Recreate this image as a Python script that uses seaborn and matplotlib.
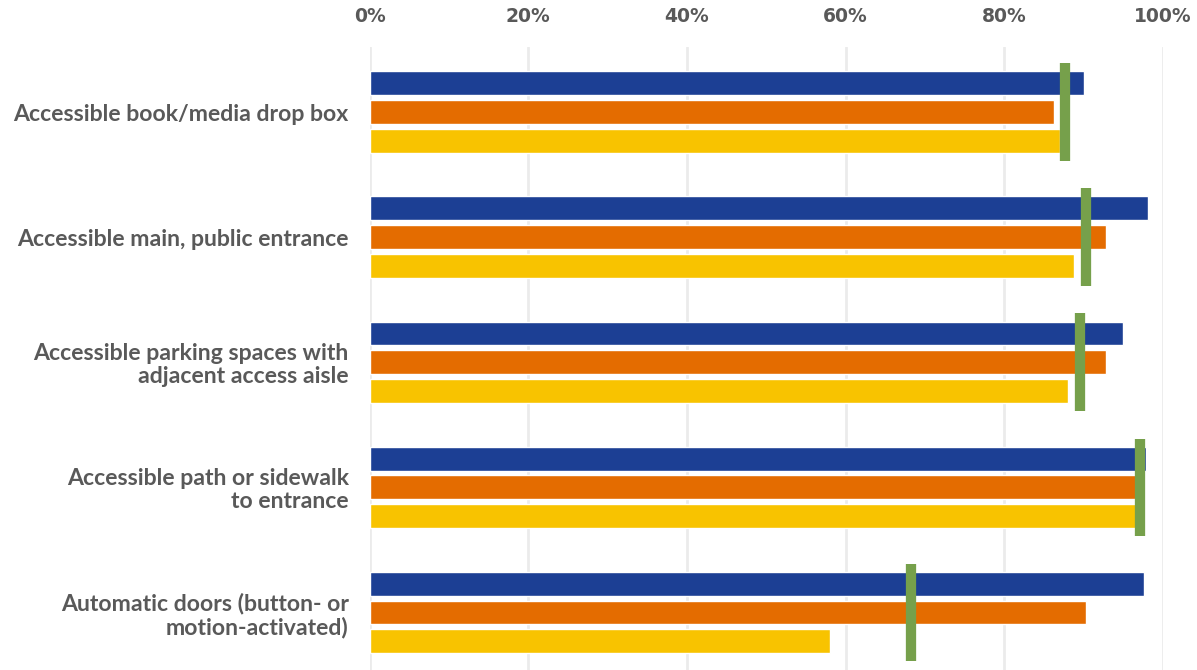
import matplotlib
matplotlib.use("Agg")
import matplotlib.pyplot as plt
from matplotlib.font_manager import FontProperties
import seaborn as sns
import pandas as pd
import numpy as np

categories = [
    "Accessible book/media drop box",
    "Accessible main, public entrance",
    "Accessible parking spaces with\nadjacent access aisle",
    "Accessible path or sidewalk\nto entrance",
    "Automatic doors (button- or\nmotion-activated)",
]
series_names = ["Group 1", "Group 2", "Group 3"]
group1 = [90.0, 98.1, 95.0, 97.9, 97.6]
group2 = [86.3, 92.8, 92.8, 97.4, 90.3]
group3 = [87.0, 88.8, 88.0, 97.3, 58.0]
overall = [87.6, 90.3, 89.6, 97.1, 68.3]
tick_values = [0, 20, 40, 60, 80, 100]
tick_labels = ["0%", "20%", "40%", "60%", "80%", "100%"]

colors = ["#1C3F94", "#E46C00", "#F8C300"]
marker_color = "#76A04B"
text_color = "#595959"

df = pd.DataFrame({
    "category": categories * 3,
    "series": [s for s in series_names for _ in categories],
    "value": group1 + group2 + group3,
})

sns.set_theme(style="white")
plt.rcParams["font.family"] = ["Lato", "DejaVu Sans"]

fig = plt.figure(figsize=(11.97, 6.70), dpi=100)
ax = fig.add_axes([0.3087, 0.0, 0.9716 - 0.3087, 0.9299])

sns.barplot(data=df, x="value", y="category", hue="series", order=categories,
            hue_order=series_names, palette=colors, orient="h",
            width=0.69, gap=0.17, dodge=True, saturation=1, legend=False,
            errorbar=None, ax=ax, zorder=2)

ypos = np.arange(len(categories))
ax.vlines(overall, ypos - 0.39, ypos + 0.39, colors=marker_color,
          linewidth=7.4, zorder=4)

ax.set_xlim(0, 100)
ax.set_ylim(len(categories) - 1 + 0.46, -0.52)
ax.set_xticks(tick_values)
tick_font = FontProperties(family="DejaVu Sans", weight="bold", size=13.5)
ax.set_xticklabels(tick_labels, fontproperties=tick_font, color=text_color)
ax.xaxis.tick_top()
ax.tick_params(axis="x", length=0, pad=15)
ax.tick_params(axis="y", length=0, pad=15, labelsize=16.6, labelcolor=text_color)
for lbl in ax.get_yticklabels():
    lbl.set_fontweight("bold")
    lbl.set_horizontalalignment("right")
    lbl.set_multialignment("right")
    lbl.set_linespacing(1.1)

ax.grid(axis="x", color="#EBEBEB", linewidth=2, zorder=0)
ax.set_axisbelow(True)
for s in ax.spines.values():
    s.set_visible(False)
ax.set_xlabel("")
ax.set_ylabel("")

fig.savefig("out.png", dpi=100)
